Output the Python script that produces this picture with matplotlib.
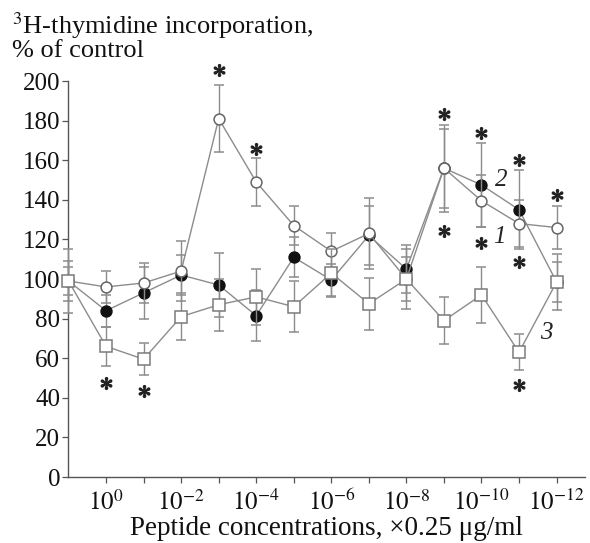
import matplotlib
matplotlib.use('Agg')
import matplotlib.pyplot as plt
import numpy as np

plt.rcParams['font.family'] = ['Liberation Serif', 'DejaVu Serif']
plt.rcParams['mathtext.fontset'] = 'stix'

# position index: 0 = control, 1..13 = 10^0 ... 10^-12
x_index = np.arange(14)

# curve 1 (open circles)
open_vals = [99, 96, 98, 104, 181, 149, 127, 114, 123, 100, 156, 139.5, 128, 126]
open_err = [16, 8, 10, 15, 17, 12, 10, 9, 18, 15, 22, 13, 12, 11]
# curve 2 (filled circles)
filled_vals = [99, 84, 93, 102, 97, 81.5, 111, 99.5, 122, 105, 156, 147.5, 135, 98.5]
filled_err = [10, 8, 13, 10, 16, 13, 10, 8, 15, 12, 20, 21, 20, 10]
# curve 3 (open squares)
square_vals = [99, 66, 59.5, 81, 87, 91, 86, 103, 87.5, 100, 79, 92, 63, 98.5]
square_err = [7, 10, 8, 12, 13, 14, 13, 12, 13, 11, 12, 14, 9, 14]

# significance asterisks
star_x = [1, 2, 4, 5, 10, 10, 11, 11, 12, 12, 12, 13]
star_y = [47.5, 43.5, 205.5, 165.5, 183.5, 124.5, 173.5, 118, 160, 108.5, 46.5, 142.5]

tick_positions = list(range(1, 14))
tick_labels = ['$10^{0}$', '', '$10^{-2}$', '', '$10^{-4}$', '', '$10^{-6}$', '',
               '$10^{-8}$', '', '$10^{-10}$', '', '$10^{-12}$']
y_ticks = [0, 20, 40, 60, 80, 100, 120, 140, 160, 180, 200]

curve_labels = ['1', '2', '3']
curve_label_x = [11.47, 11.52, 12.72]
curve_label_y = [121, 150, 72.5]

fig = plt.figure(figsize=(5.9, 5.43), dpi=100)
ax = fig.add_axes([0.1161, 0.1215, 0.875, 0.7293])

line_col = '#8c8c8c'


def draw(vals, err, marker, mfc, mec, ms, z):
    cont = ax.errorbar(x_index, vals, yerr=err, fmt='-', marker=marker, ms=ms,
                       mfc=mfc, mec=mec, mew=1.1, color=line_col, lw=1.0,
                       ecolor=line_col, elinewidth=1.0, capsize=3.5, capthick=1.0,
                       zorder=z)
    for art in cont.get_children():
        art.set_clip_on(False)


draw(filled_vals, filled_err, 'o', '#111111', '#111111', 7.8, 2)
draw(open_vals, open_err, 'o', 'white', '#666666', 7.8, 3)
draw(square_vals, square_err, 's', 'white', '#7a7a7a', 8.2, 4)

ax.plot(star_x, star_y, ls='none', marker='$*$', ms=8.5, color='#222222',
        clip_on=False, zorder=6)

for lab, lx, ly in zip(curve_labels, curve_label_x, curve_label_y):
    ax.text(lx, ly, lab, style='italic', fontsize=18, ha='center', va='center',
            color='#222222')

ax.set_xlim(0, 13.75)
ax.set_ylim(0, 200)
ax.set_xticks(tick_positions)
ax.set_xticklabels(tick_labels, fontsize=18)
ax.set_yticks(y_ticks)
ax.set_yticklabels([str(v) for v in y_ticks], fontsize=18)
for s in ['top', 'right']:
    ax.spines[s].set_visible(False)
for s in ['left', 'bottom']:
    ax.spines[s].set_color('#555555')
    ax.spines[s].set_linewidth(1.0)
ax.tick_params(axis='both', direction='out', length=4, width=0.9, color='#555555',
               labelcolor='#111111', pad=2)
ax.tick_params(axis='x', pad=5)

ax.set_xlabel('Peptide concentrations, \u00d70.25 \u03bcg/ml', fontsize=19.5,
              color='#111111', labelpad=1)

fig.text(12 / 590, 1 - 34 / 543, '$^{3}$H-thymidine incorporation,', fontsize=19,
         ha='left', va='baseline', color='#111111')
fig.text(12 / 590, 1 - 57 / 543, '% of control', fontsize=19,
         ha='left', va='baseline', color='#111111')

fig.savefig('out.png', dpi=100)
